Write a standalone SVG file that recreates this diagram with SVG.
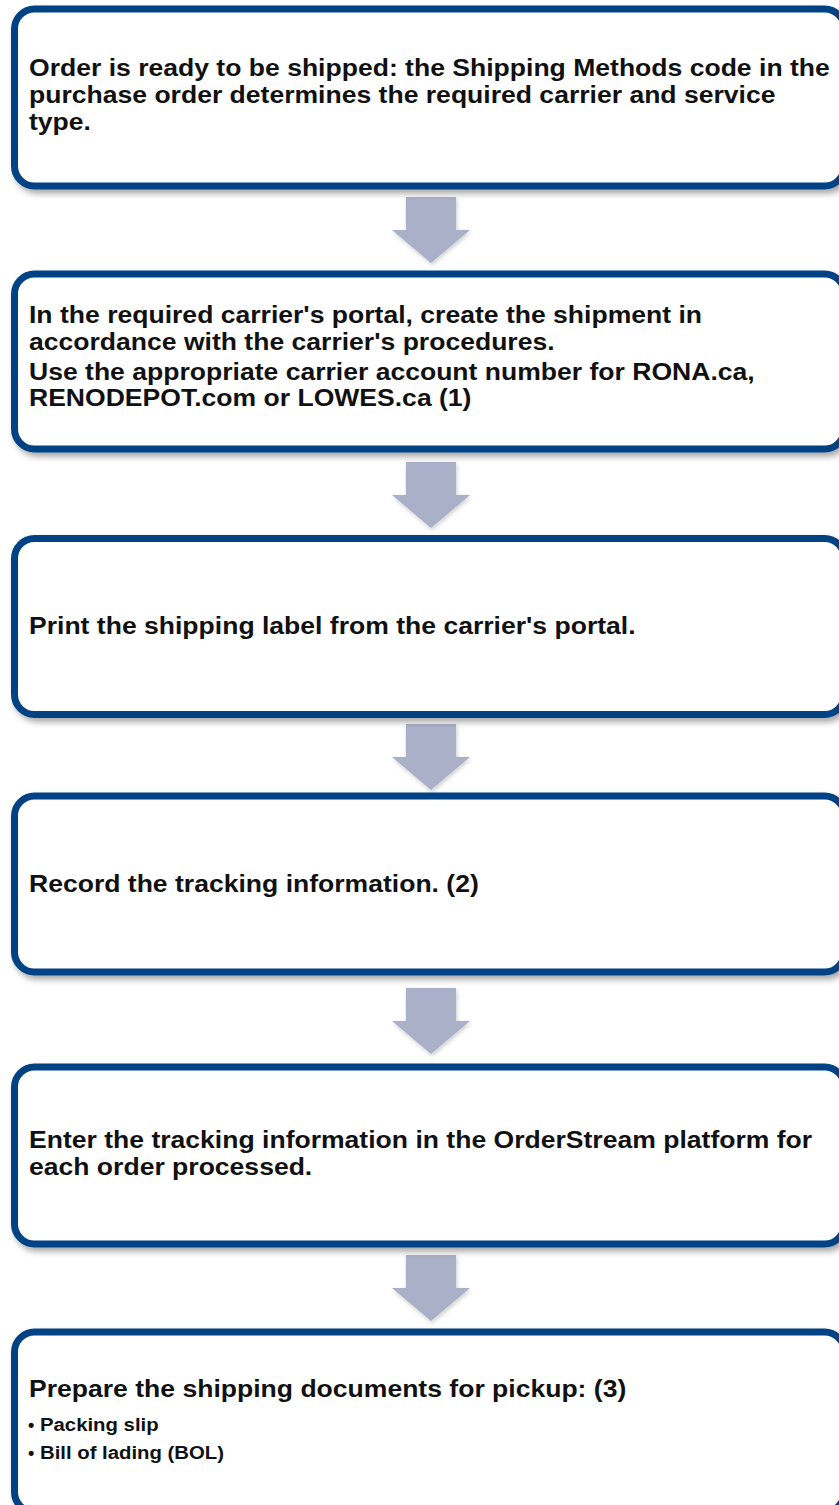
<svg xmlns="http://www.w3.org/2000/svg" xmlns:xlink="http://www.w3.org/1999/xlink" width="839" height="1505" viewBox="0 0 839 1505">
  <style>
    .box { fill: #ffffff; stroke: #034383; stroke-width: 7; filter: url(#shadow); }
    .t { font-family: "Liberation Sans", Arial, sans-serif; font-weight: bold; font-size: 23.5px; fill: #111111; }
    .b { font-family: "Liberation Sans", Arial, sans-serif; font-weight: bold; font-size: 18px; fill: #111111; }
    .arrow { fill: #A9B0C8; filter: url(#ashadow); }
  </style>
  <defs>
    <filter id="shadow" x="-5%" y="-10%" width="115%" height="125%">
      <feDropShadow dx="3" dy="4" stdDeviation="3" flood-color="#000000" flood-opacity="0.35"/>
    </filter>
    <filter id="ashadow" x="-20%" y="-20%" width="140%" height="140%">
      <feDropShadow dx="1" dy="2" stdDeviation="2" flood-color="#000000" flood-opacity="0.2"/>
    </filter>
    <path id="arr" d="M406,0 H456 V33 H470 L431,66 L392,33 H406 Z"/>
  </defs>
  <rect width="839" height="1505" fill="#ffffff"/>

  <g id="connectors">
    <use xlink:href="#arr" href="#arr" class="arrow" transform="translate(0,197)"/>
    <use xlink:href="#arr" href="#arr" class="arrow" transform="translate(0,462)"/>
    <use xlink:href="#arr" href="#arr" class="arrow" transform="translate(0,724)"/>
    <use xlink:href="#arr" href="#arr" class="arrow" transform="translate(0,988)"/>
    <use xlink:href="#arr" href="#arr" class="arrow" transform="translate(0,1255)"/>
  </g>

  <g id="node1">
    <rect class="box" x="14.5" y="9" width="830" height="177" rx="20"/>
    <text class="t" transform="translate(29,76) scale(1.13,1)">Order is ready to be shipped: the Shipping Methods code in the</text>
    <text class="t" transform="translate(29,103) scale(1.13,1)">purchase order determines the required carrier and service</text>
    <text class="t" transform="translate(29,130) scale(1.13,1)">type.</text>
  </g>

  <g id="node2">
    <rect class="box" x="14.5" y="274" width="830" height="175" rx="20"/>
    <text class="t" transform="translate(29,323) scale(1.13,1)">In the required carrier's portal, create the shipment in</text>
    <text class="t" transform="translate(29,350) scale(1.13,1)">accordance with the carrier's procedures.</text>
    <text class="t" transform="translate(29,380) scale(1.13,1)">Use the appropriate carrier account number for RONA.ca,</text>
    <text class="t" transform="translate(29,406) scale(1.13,1)">RENODEPOT.com or LOWES.ca (1)</text>
  </g>

  <g id="node3">
    <rect class="box" x="14.5" y="538.5" width="830" height="176" rx="20"/>
    <text class="t" transform="translate(29,634) scale(1.13,1)">Print the shipping label from the carrier's portal.</text>
  </g>

  <g id="node4">
    <rect class="box" x="14.5" y="796" width="830" height="176" rx="20"/>
    <text class="t" transform="translate(29,892) scale(1.13,1)">Record the tracking information. (2)</text>
  </g>

  <g id="node5">
    <rect class="box" x="14.5" y="1067" width="830" height="177" rx="20"/>
    <text class="t" transform="translate(29,1148) scale(1.13,1)">Enter the tracking information in the OrderStream platform for</text>
    <text class="t" transform="translate(29,1175) scale(1.13,1)">each order processed.</text>
  </g>

  <g id="node6">
    <rect class="box" x="14.5" y="1332" width="830" height="180" rx="20"/>
    <text class="t" transform="translate(29,1397) scale(1.13,1)">Prepare the shipping documents for pickup: (3)</text>
    <text class="b" x="28" y="1431">•</text>
    <text class="b" transform="translate(40,1431) scale(1.13,1)">Packing slip</text>
    <text class="b" x="28" y="1459">•</text>
    <text class="b" transform="translate(40,1459) scale(1.13,1)">Bill of lading (BOL)</text>
  </g>
</svg>
